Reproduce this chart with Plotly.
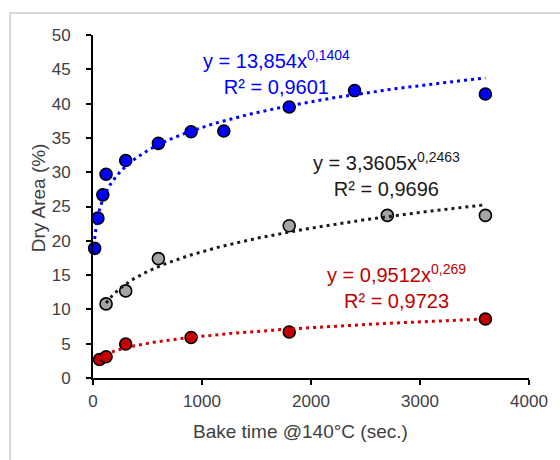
import numpy as np
import plotly.graph_objects as go

# ---- data ----
blue_x = [15, 45, 90, 120, 300, 600, 900, 1200, 1800, 2400, 3600]
blue_y = [18.9, 23.3, 26.7, 29.7, 31.7, 34.2, 35.9, 36.0, 39.5, 41.9, 41.4]

gray_x = [120, 300, 600, 1800, 2700, 3600]
gray_y = [10.8, 12.7, 17.4, 22.2, 23.7, 23.7]

red_x = [60, 120, 300, 900, 1800, 3600]
red_y = [2.7, 3.1, 4.95, 5.9, 6.7, 8.6]

# power trendline coefficients (y = a * x^b) and R² from the labels
blue_fit = (13.854, 0.1404, 0.9601)
gray_fit = (3.3605, 0.2463, 0.9696)
red_fit = (0.9512, 0.269, 0.9723)

x_ticks = [0, 1000, 2000, 3000, 4000]
y_ticks = [0, 5, 10, 15, 20, 25, 30, 35, 40, 45, 50]

FONT = "Liberation Sans, Arial, sans-serif"
BLUE = "#0000FF"
GRAY = "#A5A5A5"
RED = "#C00000"
TXT = "#404040"

fig = go.Figure()

def add_series(xs, ys, fill):
    fig.add_trace(go.Scatter(
        x=xs, y=ys, mode="markers", cliponaxis=False, showlegend=False,
        marker=dict(size=12, color=fill, line=dict(color="#000000", width=1.6)),
    ))

def add_fit(xs, fit, color):
    a, b, _ = fit
    xf = np.geomspace(min(xs), max(xs), 300)
    yf = a * xf ** b
    fig.add_trace(go.Scatter(
        x=xf, y=yf, mode="lines", cliponaxis=False, showlegend=False,
        line=dict(color=color, width=3, dash="3px,4px"),
    ))

add_series(blue_x, blue_y, BLUE)
add_series(gray_x, gray_y, GRAY)
add_series(red_x, red_y, RED)
add_fit(blue_x, blue_fit, BLUE)
add_fit(gray_x, gray_fit, "#1a1a1a")
add_fit(red_x, red_fit, "#D00000")

def fmt(v):
    return str(v).replace(".", ",")

def add_label(fit, color, cx, cy):
    a, b, r2 = fit
    fig.add_annotation(x=cx, y=cy, xref="x", yref="y", showarrow=False,
                       text=f"y = {fmt(a)}x<sup>{fmt(b)}</sup><br>R² = {fmt(r2)}",
                       align="center",
                       font=dict(family=FONT, size=20, color=color),
                       xanchor="center", yanchor="middle")

# label positions (data coordinates)
add_label(blue_fit, BLUE, 1680, 44.5)
add_label(gray_fit, "#1a1a1a", 2690, 29.6)
add_label(red_fit, RED, 2780, 13.3)

# axis titles
fig.add_annotation(x=0.475, y=-0.156, xref="paper", yref="paper", showarrow=False,
                   text="Bake time @140°C (sec.)",
                   font=dict(family=FONT, size=19, color=TXT),
                   xanchor="center", yanchor="middle")
fig.add_annotation(x=-0.123, y=0.525, xref="paper", yref="paper", showarrow=False,
                   text="Dry Area (%)", textangle=-90,
                   font=dict(family=FONT, size=19, color=TXT),
                   xanchor="center", yanchor="middle")

# light chart-area frame
fig.add_shape(type="rect", xref="paper", yref="paper",
              x0=-0.19, x1=1.3, y0=-0.4, y1=1.064,
              line=dict(color="#D9D9D9", width=2), layer="below")

fig.update_layout(
    width=560, height=460,
    margin=dict(l=93, r=29, t=35, b=82),
    paper_bgcolor="white", plot_bgcolor="white",
    font=dict(family=FONT, size=17, color=TXT),
    showlegend=False,
)
fig.update_xaxes(
    range=[0, 4000], tickvals=x_ticks, ticktext=[str(v) for v in x_ticks],
    showgrid=False, zeroline=False, showline=True, linecolor="#000000", linewidth=2,
    ticks="outside", ticklen=5, tickwidth=2, tickcolor="#000000",
    tickfont=dict(family=FONT, size=17, color=TXT), ticklabelstandoff=2,
)
fig.update_yaxes(
    range=[0, 50], tickvals=y_ticks, ticktext=[str(v) for v in y_ticks],
    showgrid=False, zeroline=False, showline=True, linecolor="#000000", linewidth=2,
    ticks="outside", ticklen=5, tickwidth=2, tickcolor="#000000",
    tickfont=dict(family=FONT, size=17, color=TXT), ticklabelstandoff=12,
)

fig.write_html("out.html",
               config={"displayModeBar": False},
               post_script="document.body.style.margin='0px';document.body.style.overflow='hidden';")
